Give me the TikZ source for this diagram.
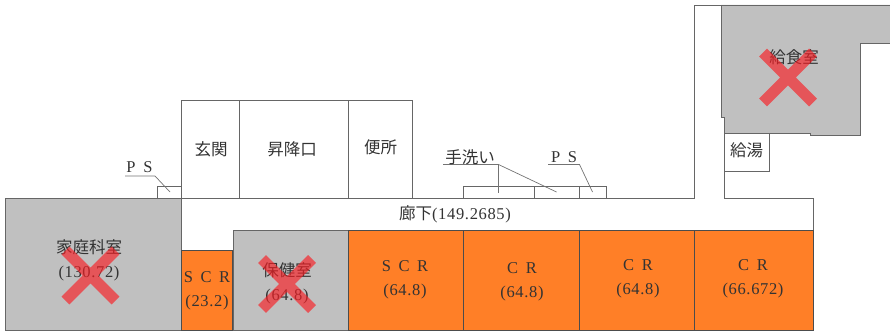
\documentclass[tikz,border=0pt]{standalone}
\usepackage{fontspec}
\setmainfont{Noto Sans CJK JP}
\newfontfamily\latinfont[LetterSpace=4,WordSpace=1.6]{Liberation Serif}

\definecolor{RoomGray}{HTML}{C0C0C0}
\definecolor{RoomOrange}{HTML}{FF7F27}
\definecolor{CrossRed}{HTML}{F91D23}

\tikzstyle{every path} = [line width=0.9pt,black!65]
\tikzstyle{every node} = [black!80,align=center,font=\fontsize{16.5}{24}\selectfont,inner sep=0pt]
\tikzstyle{grayroom} = [fill=RoomGray,draw=black!60]
\tikzstyle{orangeroom} = [fill=RoomOrange,draw=black!70]
\tikzstyle{plainroom} = [draw=black!60]
\tikzstyle{thinwall} = [line width=0.7pt,black!55]
\tikzstyle{crossmark} = [line width=11pt,CrossRed,opacity=0.65]

\begin{document}
\begin{tikzpicture}[x=1pt,y=-1pt]
    \useasboundingbox (0,0) rectangle (890,331);

    % Gray rooms
    \draw[grayroom] (5,198) rectangle (181.5,330);
    \draw[grayroom] (233,230) rectangle (348,330);
    \draw[grayroom] (721,5) -- (890,5) -- (890,43.5) -- (860.5,43.5) -- (860.5,135)
        -- (810,135) -- (810,133) -- (724.5,133) -- (724.5,117.5) -- (721,117.5) -- cycle;

    % Orange rooms
    \draw[orangeroom] (181.5,250) rectangle (232.5,330);
    \foreach \xa/\xb in {348/463.5, 463.5/579, 579/694.5, 694.5/813} {
        \draw[orangeroom] (\xa,230) rectangle (\xb,330);
    }

    % Rooms above the corridor
    \foreach \xa/\xb in {181.5/239.5, 239.5/348, 348/412.5} {
        \draw[plainroom] (\xa,198) -- (\xa,100.5) -- (\xb,100.5) -- (\xb,198);
    }
    \draw[plainroom] (157,198) -- (157,186) -- (181.5,186);
    \draw[plainroom] (724.5,133) rectangle (769.5,171);

    % Corridor walls
    \draw[plainroom] (5,198) -- (694.5,198) -- (694.5,5) -- (721,5);
    \draw[plainroom] (724.5,171) -- (724.5,198) -- (813,198) -- (813,230);
    \draw[plainroom] (181.5,198) -- (181.5,250);

    % Wash basins
    \draw[plainroom] (463.5,198) -- (463.5,186) -- (606.5,186) -- (606.5,198);
    \foreach \x in {534.5, 579} {
        \draw[plainroom] (\x,186) -- (\x,198);
    }

    % Leaders
    \coordinate (psleftend) at (125,176);
    \coordinate (psleftbend) at (155,176);
    \coordinate (psleftin) at (170,192);
    \draw[thinwall] (psleftend) -- (psleftbend) -- (psleftin);
    \coordinate (washend) at (443,164.5);
    \coordinate (washbend) at (498.5,164.5);
    \coordinate (washa) at (498.5,193);
    \coordinate (washb) at (556.5,192);
    \draw[thinwall] (washend) -- (washbend) -- (washa);
    \draw[thinwall] (washbend) -- (washb);
    \coordinate (psrightend) at (548,164.5);
    \coordinate (psrightbend) at (579.5,164.5);
    \coordinate (psrightin) at (592.5,192);
    \draw[thinwall] (psrightend) -- (psrightbend) -- (psrightin);

    % Labels
    \node (kateika) at (89,260.5) {家庭科室\\{\latinfont (130.72)}};
    \node (scrsmall) at (207,290.5) {{\latinfont S C R}\\{\latinfont (23.2)}};
    \node (hoken) at (287,283) {保健室\\{\latinfont (64.8)}};
    \node (scrlarge) at (405,279.5) {{\latinfont S C R}\\{\latinfont (64.8)}};
    \node (cra) at (522,281.5) {{\latinfont C R}\\{\latinfont (64.8)}};
    \node (crb) at (638,279) {{\latinfont C R}\\{\latinfont (64.8)}};
    \node (crc) at (753,279) {{\latinfont C R}\\{\latinfont (66.672)}};
    \node (rouka) at (455,214) {廊下{\latinfont (149.2685)}};
    \node (genkan) at (211,149) {玄関};
    \node (shokou) at (292,149) {昇降口};
    \node (benjo) at (380.5,147) {便所};
    \node (tearai) at (470,157) {手洗い};
    \node (psright) at (564,157) {\latinfont P S};
    \node (psleft) at (139.5,167.5) {\latinfont P S};
    \node (kyushoku) at (794,57.5) {給食室};
    \node (kyuto) at (746.5,150) {給湯};

    % Red crosses
    \foreach \cx/\cy in {90.5/275.5, 287/284, 788/77.5} {
        \draw[crossmark] (\cx-25,\cy-25) -- (\cx+25,\cy+25)
            (\cx-25,\cy+25) -- (\cx+25,\cy-25);
    }
\end{tikzpicture}
\end{document}
